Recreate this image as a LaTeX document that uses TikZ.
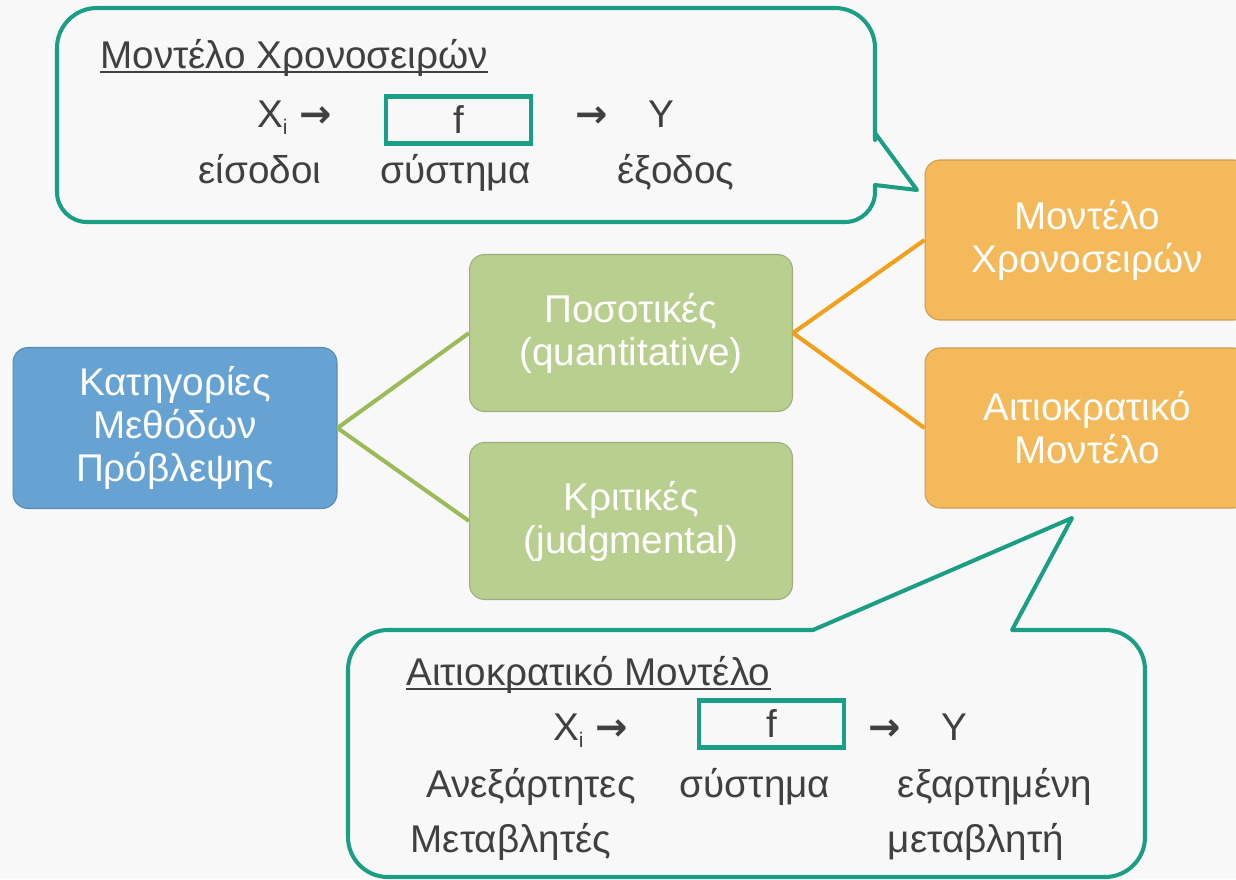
\documentclass[tikz,border=0pt]{standalone}
\usepackage{fontspec}
\setmainfont{Liberation Sans}
\newfontfamily\arrowfont{DejaVu Sans}
\usetikzlibrary{positioning}
\definecolor{ForePage}{HTML}{F8F8F8}
\definecolor{ForeTeal}{HTML}{1A9E84}
\definecolor{ForeBlue}{HTML}{66A3D3}
\definecolor{ForeGreen}{HTML}{B9CF8F}
\definecolor{ForeOrange}{HTML}{F4B95A}
\definecolor{ForeLeaf}{HTML}{9BBB59}
\definecolor{ForeAmber}{HTML}{F29F1C}
\definecolor{ForeText}{HTML}{404040}
\newcommand{\toarrow}{{\arrowfont\bfseries →}}
\newcommand{\lowi}{\raisebox{-4pt}{\fontsize{12}{12}\selectfont i}}
\tikzset{
  bigfont/.style={font=\fontsize{22}{24.5}\selectfont},
  rootbox/.style={bigfont, draw=ForeBlue!85!black, fill=ForeBlue, text=white,
                  rounded corners=0.3cm, line width=0.6pt, align=center,
                  minimum width=6.48cm, minimum height=3.22cm, inner sep=0pt},
  typebox/.style={bigfont, draw=ForeGreen!85!black, fill=ForeGreen, text=white,
                  rounded corners=0.3cm, line width=0.6pt, align=center,
                  minimum width=6.46cm, minimum height=3.14cm, inner sep=0pt},
  modelbox/.style={bigfont, draw=ForeOrange!85!black, fill=ForeOrange, text=white,
                   rounded corners=0.3cm, line width=0.6pt, align=center,
                   minimum width=6.48cm, minimum height=3.2cm, inner sep=0pt},
  leaflink/.style={ForeLeaf, line width=2.3pt},
  amberlink/.style={ForeAmber, line width=2.3pt},
  balloon/.style={draw=ForeTeal, line width=2.3pt, line join=round},
  fbox/.style={bigfont, draw=ForeTeal, line width=2.3pt, text=ForeText,
               minimum width=2.9cm, minimum height=0.94cm, inner sep=0pt},
  calltext/.style={bigfont, text=ForeText, inner sep=0pt},
  underbar/.style={ForeText, line width=1pt},
}

\begin{document}
\begin{tikzpicture}[x=0.02cm, y=-0.02cm]
  \clip (0,0) rectangle (1236,879);
  \fill[ForePage] (0,0) rectangle (1236,879);

  \node[rootbox] (cat) at (175,428) {Κατηγορίες\\Μεθόδων\\Πρόβλεψης};
  \node[typebox] (quant) at (631,333) {Ποσοτικές\\(quantitative)};
  \node[typebox] (judg) at (631,521) {Κριτικές\\(judgmental)};
  \node[modelbox] (tseries) at (1087,240) {Μοντέλο\\Χρονοσειρών};
  \node[modelbox] (causal) at (1087,428) {Αιτιοκρατικό\\Μοντέλο};

  \draw[leaflink] (cat.east) -- (quant.west);
  \draw[leaflink] (cat.east) -- (judg.west);
  \draw[amberlink] (quant.east) -- (tseries.west);
  \draw[amberlink] (quant.east) -- (causal.west);

  % time series balloon
  \draw[balloon] (57,120) [rounded corners=0.8cm] -- (57,8) -- (875,8) -- (875,100)
    [sharp corners] -- (875,133) -- (917,190) -- (875,185) -- (875,190)
    [rounded corners=0.6cm] -- (875,222) -- (57,222) -- cycle;
  \node[calltext, anchor=base west] (tstitle) at (100,68) {Μοντέλο Χρονοσειρών};
  \draw[underbar] ([yshift=-2.4pt]tstitle.base west) -- ([yshift=-2.4pt]tstitle.base east);
  \node[calltext, anchor=base east] (tsin) at (332,127) {X\lowi\hspace{0.3em}\toarrow};
  \node[fbox] (tsf) at (458.5,120) {f};
  \node[calltext, anchor=base west] (tsout) at (575,127) {\toarrow\hspace{1.05em}Y};
  \node[calltext, anchor=base] (tsinlbl) at (260,183) {είσοδοι};
  \node[calltext, anchor=base] (tssys) at (456,183) {σύστημα};
  \node[calltext, anchor=base] (tsoutlbl) at (676,183) {έξοδος};

  % causal balloon
  \draw[balloon] (348,750) [rounded corners=0.8cm] -- (348,630) -- (760,630)
    [sharp corners] -- (813,630) -- (1072,518) -- (1012,630) -- (1060,630)
    [rounded corners=0.8cm] -- (1145,630) -- (1145,877) -- (348,877) -- cycle;
  \node[calltext, anchor=base west] (cstitle) at (406,685) {Αιτιοκρατικό Μοντέλο};
  \draw[underbar] ([yshift=-2.4pt]cstitle.base west) -- ([yshift=-2.4pt]cstitle.base east);
  \node[calltext, anchor=base east] (csin) at (628,740) {X\lowi\hspace{0.3em}\toarrow};
  \node[fbox] (csf) at (771.5,724) {f};
  \node[calltext, anchor=base west] (csout) at (868,740) {\toarrow\hspace{1.05em}Y};
  \node[calltext, anchor=base] (csinlbl) at (531,797) {Ανεξάρτητες};
  \node[calltext, anchor=base] (cssys) at (755,797) {σύστημα};
  \node[calltext, anchor=base] (csoutlbl) at (995,797) {εξαρτημένη};
  \node[calltext, anchor=base] (csinlbl2) at (511,852) {Μεταβλητές};
  \node[calltext, anchor=base] (csoutlbl2) at (976,852) {μεταβλητή};
\end{tikzpicture}
\end{document}
